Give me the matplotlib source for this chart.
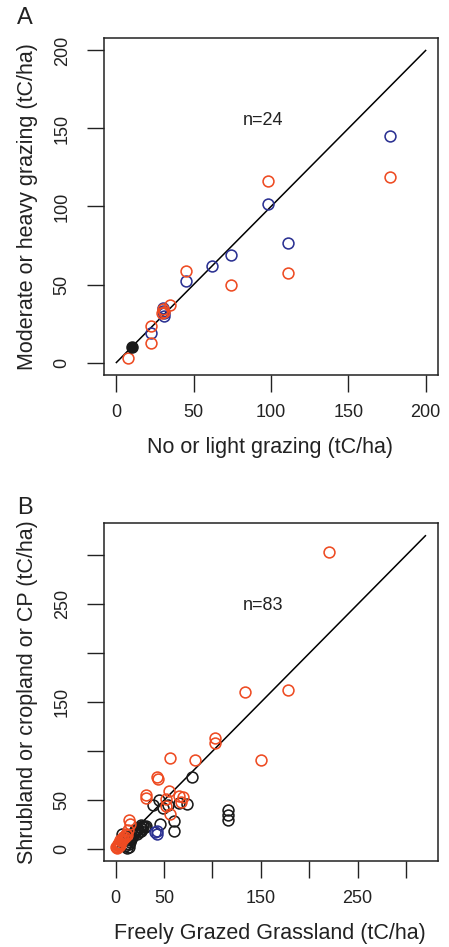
import matplotlib
matplotlib.use("Agg")
import matplotlib.pyplot as plt

plt.rcParams['font.family'] = ['Liberation Sans', 'DejaVu Sans']

ORANGE = '#EE4B22'
BLUE = '#2B3192'

# ---------------- Panel A data ----------------
a_blue_x = [176.7, 98.2, 110.7, 74.4, 61.9, 44.8, 29.9, 31.0, 30.5, 22.3, 30.0]
a_blue_y = [145.4, 101.5, 76.8, 69.1, 61.6, 52.0, 35.0, 29.8, 31.5, 18.8, 33.0]
a_orange_x = [176.7, 98.2, 110.7, 74.4, 44.8, 35.0, 29.9, 29.3, 22.3, 22.3, 7.4, 30.5]
a_orange_y = [118.8, 116.4, 57.6, 49.9, 58.4, 37.1, 34.1, 31.6, 23.2, 12.4, 2.6, 32.5]
a_black_x = [9.8]
a_black_y = [10.2]
a_ticks = [0, 50, 100, 150, 200]
a_ticklabels = ['0', '50', '100', '150', '200']

# ---------------- Panel B data ----------------
b_orange_x = [220.8, 133.5, 177.6, 150.1, 102.2, 102.2,
              56.0, 81.9, 42.4, 44.1, 55.4, 31.6, 30.9, 52.0, 65.6, 69.6, 67.2,
              52.0, 56.0, 13.9, 15.3, 12.9, 11.2, 7.8, 4.4, 2.7, 0.3,
              1.0, 2.0, 3.0, 4.0, 5.0, 6.0, 8.0, 10.0, 12.0, 2.0, 3.0, 5.0, 7.0]
b_orange_y = [303.1, 160.8, 162.8, 90.9, 113.1, 108.0,
              92.7, 90.9, 73.3, 71.2, 59.6, 55.2, 51.8, 50.8, 54.2, 53.4, 48.3,
              43.9, 36.4, 30.3, 26.2, 19.4, 16.0, 12.6, 9.2, 5.8, 2.4,
              1.0, 2.0, 3.0, 5.0, 6.0, 8.0, 10.0, 12.0, 15.0, 4.0, 6.0, 4.0, 9.0]
b_black_x = [78.5, 38.4, 44.5, 49.3, 53.7, 65.6, 74.0, 116.5, 115.8, 115.8,
             45.9, 60.5, 60.5, 24.8, 26.5, 28.2, 29.9, 24.1, 27.5, 22.1,
             19.7, 18.0, 13.9, 14.6, 11.2, 16.3, 12.9, 6.1,
             20.0, 23.0, 26.0, 28.0, 22.0, 19.0, 15.0, 17.0, 10.0, 12.0, 14.0, 31.0]
b_black_y = [73.3, 45.0, 50.1, 41.6, 45.0, 46.7, 46.0, 39.8, 34.7, 30.3,
             25.5, 28.9, 18.7, 22.8, 24.5, 23.5, 22.8, 17.7, 21.1, 19.4,
             17.7, 14.3, 2.4, 7.5, 5.8, 10.9, 12.6, 16.0,
             20.0, 21.0, 19.0, 24.0, 16.0, 18.0, 9.0, 13.0, 3.0, 1.0, 5.0, 24.0]
b_blue_x = [42.4, 42.4, 41.1]
b_blue_y = [18.7, 15.3, 17.1]
b_ticks = [0, 50, 100, 150, 200, 250, 300]
b_ticklabels = ['0', '50', '', '150', '', '250', '']

W, H = 449, 947
fig = plt.figure(figsize=(W / 100, H / 100), dpi=100)


def px_axes(left, top, right, bottom):
    return fig.add_axes([left / W, 1 - bottom / H, (right - left) / W, (bottom - top) / H])


MS = 7.8
MEW = 1.15
TICK_FS = 13
LABEL_FS = 15.5
TXT = '#222222'


def style(ax, ticks, ticklabels):
    ax.set_xticks(ticks)
    ax.set_xticklabels(ticklabels)
    ax.set_yticks(ticks)
    ax.set_yticklabels(ticklabels, rotation=90, va='center')
    ax.tick_params(direction='out', length=12, width=1.0, labelsize=TICK_FS, color=TXT,
                   labelcolor=TXT)
    ax.tick_params(axis='x', pad=9)
    ax.tick_params(axis='y', pad=12)
    for s in ax.spines.values():
        s.set_linewidth(1.1)
        s.set_color(TXT)


def circles(ax, x, y, color):
    ax.plot(x, y, linestyle='none', marker='o', markersize=MS, markerfacecolor='none',
            markeredgecolor=color, markeredgewidth=MEW)


# Panel A
axA = px_axes(104, 38, 438, 375)
axA.plot([0, 200], [0, 200], color='black', lw=1.1)
circles(axA, a_blue_x, a_blue_y, BLUE)
circles(axA, a_orange_x, a_orange_y, ORANGE)
axA.plot(a_black_x, a_black_y, linestyle='none', marker='o', markersize=8,
         color='#1a1a1a')
axA.set_xlim(-8, 208)
axA.set_ylim(-8, 208)
style(axA, a_ticks, a_ticklabels)
axA.text(95, 155, 'n=24', fontsize=TICK_FS, ha='center', va='center', color=TXT)
axA.set_xlabel('No or light grazing (tC/ha)', fontsize=LABEL_FS, color=TXT)
axA.set_ylabel('Moderate or heavy grazing (tC/ha)', fontsize=LABEL_FS, color=TXT)
axA.xaxis.set_label_coords((270 - 104) / 334, (375 - 447) / 337)
axA.xaxis.label.set_va('center')
axA.yaxis.set_label_coords((28 - 104) / 334, 0.5)
axA.yaxis.label.set_va('center')
fig.text(25 / W, 1 - 18 / H, 'A', fontsize=17, ha='center', va='center', color=TXT)

# Panel B
axB = px_axes(104, 523, 438, 861)
axB.plot([0, 320], [0, 320], color='black', lw=1.1)
circles(axB, b_black_x, b_black_y, '#1a1a1a')
circles(axB, b_blue_x, b_blue_y, BLUE)
circles(axB, b_orange_x, b_orange_y, ORANGE)
axB.set_xlim(-12, 333)
axB.set_ylim(-12, 333)
style(axB, b_ticks, b_ticklabels)
axB.text(152, 249, 'n=83', fontsize=TICK_FS, ha='center', va='center', color=TXT)
axB.set_xlabel('Freely Grazed Grassland (tC/ha)', fontsize=LABEL_FS, color=TXT)
axB.set_ylabel('Shrubland or cropland or CP (tC/ha)', fontsize=LABEL_FS, color=TXT)
axB.xaxis.set_label_coords((270 - 104) / 334, (861 - 933) / 338)
axB.xaxis.label.set_va('center')
axB.yaxis.set_label_coords((28 - 104) / 334, 0.5)
axB.yaxis.label.set_va('center')
fig.text(25 / W, 1 - 508 / H, 'B', fontsize=17, ha='center', va='center', color=TXT)

fig.savefig('out.png', dpi=100)
